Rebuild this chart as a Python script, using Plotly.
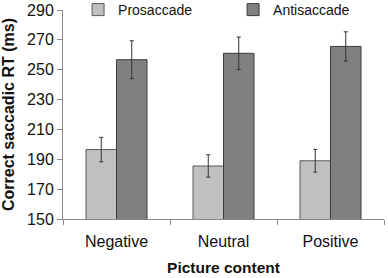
import plotly.graph_objects as go

categories = ["Negative", "Neutral", "Positive"]
pro_values = [196.5, 185.5, 189.0]
pro_errors = [8.2, 7.5, 7.6]
anti_values = [256.7, 261.0, 265.6]
anti_errors = [12.7, 10.9, 9.8]
y_ticks = [150, 170, 190, 210, 230, 250, 270, 290]

fig = go.Figure()
fig.add_trace(go.Bar(
    name="Prosaccade", x=categories, y=pro_values,
    marker=dict(color="#C0C0C0", line=dict(color="#5a5a5a", width=1)),
    error_y=dict(type="data", array=pro_errors, color="#333333", thickness=1, width=2),
))
fig.add_trace(go.Bar(
    name="Antisaccade", x=categories, y=anti_values,
    marker=dict(color="#808080", line=dict(color="#3c3c3c", width=1)),
    error_y=dict(type="data", array=anti_errors, color="#333333", thickness=1, width=2),
))

fig.update_layout(
    width=388, height=278,
    margin=dict(l=63, r=4, t=10, b=59, autoexpand=False),
    paper_bgcolor="white", plot_bgcolor="white",
    barmode="group", bargap=0.43, bargroupgap=0,
    font=dict(family="Liberation Sans, Arial, sans-serif", size=16, color="#111111"),
    legend=dict(orientation="h", x=0.047, y=1.0, xanchor="left", yanchor="middle",
                entrywidth=110, entrywidthmode="pixels", bgcolor="rgba(0,0,0,0)",
                font=dict(size=14), itemwidth=30),
    xaxis=dict(showline=True, linecolor="#888888", linewidth=1, ticks="outside",
               tickson="boundaries", ticklen=5, tickcolor="#888888", ticklabelstandoff=8,
               title=dict(text="<b>Picture content</b>", font=dict(size=15.5), standoff=12)),
    yaxis=dict(range=[150, 290], tickvals=y_ticks, showline=True, linecolor="#888888",
               linewidth=1, ticks="outside", ticklen=5, tickcolor="#888888",
               showgrid=False, zeroline=False,
               title=dict(text="<b>Correct saccadic RT (ms)</b>", font=dict(size=16), standoff=9)),
)
fig.write_html("out.html", config={"displayModeBar": False},
               post_script="document.body.style.margin='0px';")
